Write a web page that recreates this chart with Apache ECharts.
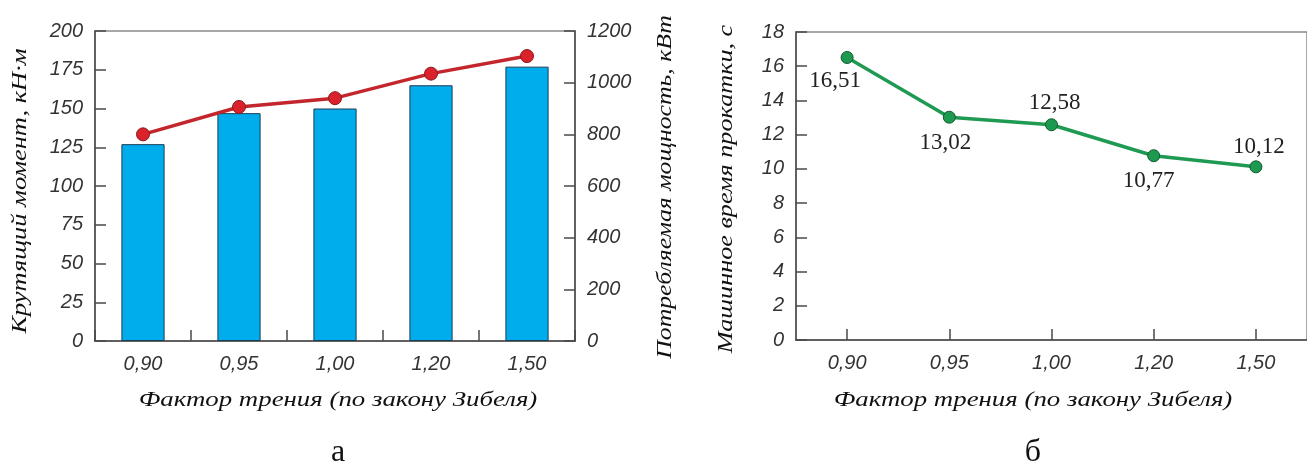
<!DOCTYPE html>
<html>
<head>
<meta charset="utf-8">
<script src="https://cdn.jsdelivr.net/npm/echarts@6/dist/echarts.min.js"></script>
<style>
  html, body { margin: 0; padding: 0; background: #fff; }
  #chart { width: 1307px; height: 465px; }
</style>
</head>
<body>
<div id="chart"></div>
<script>
// Friction factor (Siebel law) categories
const categories = ['0,90', '0,95', '1,00', '1,20', '1,50'];
// Torque, kN·m (bars, left axis of panel а)
const torque = [127, 147, 150, 165, 177];
// Consumed power, kW (line, right axis of panel а)
const power = [800, 906, 940, 1035, 1103];
// Machine rolling time, s (panel б)
const rollingTime = [16.51, 13.02, 12.58, 10.77, 10.12];

// Axis ranges / steps
const torqueAxis = { min: 0, max: 200, interval: 25 };
const powerAxis = { min: 0, max: 1200, interval: 200 };
const timeAxis = { min: 0, max: 18, interval: 2 };

// Titles
const xTitle = 'Фактор трения (по закону Зибеля)';
const torqueTitle = 'Крутящий момент, кН·м';
const powerTitle = 'Потребляемая мощность, кВт';
const timeTitle = 'Машинное время прокатки, с';

// Where each value label of panel б sits relative to its point
const timeLabelOffsets = [[-12, 23], [-4, 26], [3, -22], [-5, 25], [3, -20]];

const SERIF = '"Liberation Serif", "DejaVu Serif", serif';
const SANS = '"Liberation Sans", Arial, sans-serif';
const AXIS_COLOR = '#4a4a4a';
const TICK_LABEL = { fontFamily: SANS, fontStyle: 'italic', fontSize: 20, color: '#333' };
const TITLE_FONT = 'italic 22px ' + SERIF;

const fmt = v => String(v).replace('.', ',');

function valueAxis(gridIndex, range, extra) {
  return Object.assign({
    type: 'value',
    gridIndex,
    min: range.min, max: range.max, interval: range.interval,
    axisLine: { show: true, lineStyle: { color: AXIS_COLOR, width: 1.5 } },
    axisTick: { show: true, inside: true, length: 11, lineStyle: { color: AXIS_COLOR, width: 1.5 } },
    splitLine: { show: false },
    axisLabel: Object.assign({ margin: 12, formatter: v => String(v) }, TICK_LABEL)
  }, extra);
}

function catAxis(gridIndex, alignWithLabel) {
  return {
    type: 'category',
    gridIndex,
    data: categories,
    boundaryGap: true,
    axisLine: { show: true, lineStyle: { color: AXIS_COLOR, width: 1.5 } },
    axisTick: { show: true, inside: true, length: 11, alignWithLabel, lineStyle: { color: AXIS_COLOR, width: 1.5 } },
    axisLabel: Object.assign({ margin: 13 }, TICK_LABEL)
  };
}

// Axis title drawn as a text element, slightly widened along its reading direction
function titleText(text, x, y, vertical, stretch) {
  return {
    type: 'text',
    x, y,
    rotation: vertical ? Math.PI / 2 : 0,
    scaleX: stretch,
    style: { text, font: TITLE_FONT, fill: '#111', textAlign: 'center', textVerticalAlign: 'middle' }
  };
}

const chart = echarts.init(document.getElementById('chart'), null, { renderer: 'canvas' });

chart.setOption({
  animation: false,
  backgroundColor: '#fff',
  grid: [
    { left: 95, top: 31, width: 480, height: 310, show: true, borderColor: '#8a8a8a', borderWidth: 1.5, backgroundColor: 'transparent' },
    { left: 796, top: 32, width: 520, height: 308, show: true, borderColor: '#8a8a8a', borderWidth: 1.5, backgroundColor: 'transparent' }
  ],
  xAxis: [catAxis(0, false), catAxis(1, true)],
  yAxis: [
    valueAxis(0, torqueAxis, { position: 'left' }),
    valueAxis(0, powerAxis, { position: 'right' }),
    valueAxis(1, timeAxis, { position: 'left' })
  ],
  series: [
    {
      type: 'bar',
      xAxisIndex: 0, yAxisIndex: 0,
      data: torque,
      barWidth: '45%',
      itemStyle: { color: '#00adec', borderColor: '#1c3d57', borderWidth: 1 }
    },
    {
      type: 'line',
      xAxisIndex: 0, yAxisIndex: 1,
      data: power,
      symbol: 'circle', symbolSize: 13,
      lineStyle: { color: '#c3262d', width: 3.5 },
      itemStyle: { color: '#d9222b', borderColor: '#8e1a1e', borderWidth: 1 }
    },
    {
      type: 'line',
      xAxisIndex: 1, yAxisIndex: 2,
      data: rollingTime.map((v, i) => ({
        value: v,
        label: { offset: timeLabelOffsets[i] }
      })),
      symbol: 'circle', symbolSize: 12,
      lineStyle: { color: '#1f9a52', width: 3.5 },
      itemStyle: { color: '#1e9a50', borderColor: '#0f5a30', borderWidth: 1 },
      label: {
        show: true,
        position: 'inside',
        formatter: p => fmt(p.value),
        fontFamily: SERIF,
        fontSize: 23,
        color: '#222'
      }
    }
  ],
  graphic: [
    titleText(xTitle, 338, 400, false, 1.22),
    titleText(xTitle, 1033, 400, false, 1.22),
    titleText(torqueTitle, 20, 191, true, 1.2),
    titleText(powerTitle, 665, 187, true, 1.17),
    titleText(timeTitle, 726, 189, true, 1.19),
    { type: 'text', x: 338, y: 453, style: { text: 'а', font: '32px ' + SERIF, fill: '#111', textAlign: 'center', textVerticalAlign: 'middle' } },
    { type: 'text', x: 1033, y: 453, style: { text: 'б', font: '32px ' + SERIF, fill: '#111', textAlign: 'center', textVerticalAlign: 'middle' } }
  ]
});
</script>
</body>
</html>
